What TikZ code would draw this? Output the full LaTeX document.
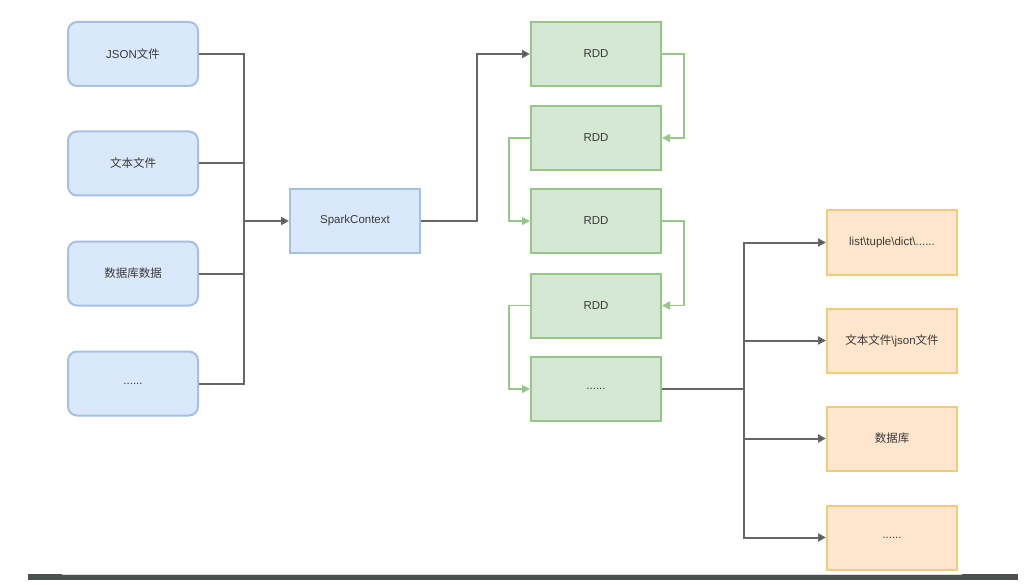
\documentclass[tikz,border=0pt]{standalone}
\usepackage{fontspec}
\setmainfont{Liberation Sans}
\newfontfamily\cjk{Noto Sans CJK SC}
\usetikzlibrary{arrows.meta}
\definecolor{bfill}{HTML}{DAE8FC}
\definecolor{bdraw}{HTML}{A6BFE3}
\definecolor{gfill}{HTML}{D5E8D4}
\definecolor{gdraw}{HTML}{96C788}
\definecolor{ofill}{HTML}{FFE6CC}
\definecolor{odraw}{HTML}{F0CB78}
\definecolor{txt}{HTML}{3A3A3A}
\definecolor{conn}{HTML}{666666}
\definecolor{bar}{HTML}{4B4F4E}
\tikzset{
  box/.style={minimum width=130pt, minimum height=64pt, line width=2pt, inner sep=0pt, font=\fontsize{11.5}{13}\selectfont, text=txt},
  srcbox/.style={box, rounded corners=9pt, fill=bfill, draw=bdraw},
  scbox/.style={box, fill=bfill, draw=bdraw},
  rddbox/.style={box, fill=gfill, draw=gdraw},
  outbox/.style={box, fill=ofill, draw=odraw},
  blk/.style={draw=conn, line width=2pt},
  blkarr/.style={blk, -{Triangle[length=8pt,width=8pt,fill=black!85]}},
  grn/.style={draw=gdraw, line width=1.6pt, -{Triangle[length=8pt,width=8pt,fill=gdraw]}},
}
\begin{document}
\begin{tikzpicture}[x=1pt,y=-1pt]
\useasboundingbox (0,0) rectangle (1032,585);
% left sources
\node[srcbox] (s1) at (133,54) {JSON{\cjk 文件}};
\node[srcbox] (s2) at (133,163.5) {\cjk 文本文件};
\node[srcbox] (s3) at (133,273.5) {\cjk 数据库数据};
\node[srcbox] (s4) at (133,383.5) {......};
\node[scbox] (sc) at (355,221) {SparkContext};
% RDDs
\node[rddbox] (r1) at (596,54) {RDD};
\node[rddbox] (r2) at (596,138) {RDD};
\node[rddbox] (r3) at (596,221) {RDD};
\node[rddbox] (r4) at (596,305.5) {RDD};
\node[rddbox] (r5) at (596,389) {......};
% outputs
\node[outbox] (o1) at (892,242.5) {list\textbackslash tuple\textbackslash dict\textbackslash ......};
\node[outbox] (o2) at (892,340.5) {{\cjk 文本文件}\textbackslash json{\cjk 文件}};
\node[outbox] (o3) at (892,438.5) {\cjk 数据库};
\node[outbox] (o4) at (892,537.5) {......};
% coordinates
\coordinate (j) at (244,221);
\coordinate (k) at (744,389);
% left connectors
\draw[blk] (s1.east) -| (j);
\draw[blk] (s2.east) -| (j);
\draw[blk] (s3.east) -| (j);
\draw[blk] (s4.east) -| (j);
\draw[blkarr] (j) -- (sc.west);
\draw[blkarr] (sc.east) -- ++(56,0) |- (r1.west);
% green chain
\draw[grn] (r1.east) -- ++(22,0) |- (r2.east);
\draw[grn] (r2.west) -- ++(-21,0) |- (r3.west);
\draw[grn] (r3.east) -- ++(22,0) |- (r4.east);
\draw[grn] (r4.west) -- ++(-21,0) |- (r5.west);
% output fan
\draw[blk] (r5.east) -- (k);
\draw[blkarr] (k) |- (o1.west);
\draw[blkarr] (k) |- (o2.west);
\draw[blkarr] (k) |- (o3.west);
\draw[blkarr] (k) |- (o4.west);
% bottom bar
\fill[bar] (28,574) rectangle (1018,580);
\draw[white!85!black, line width=1pt] (62,574.5) -- (962,574.5);
\end{tikzpicture}
\end{document}
